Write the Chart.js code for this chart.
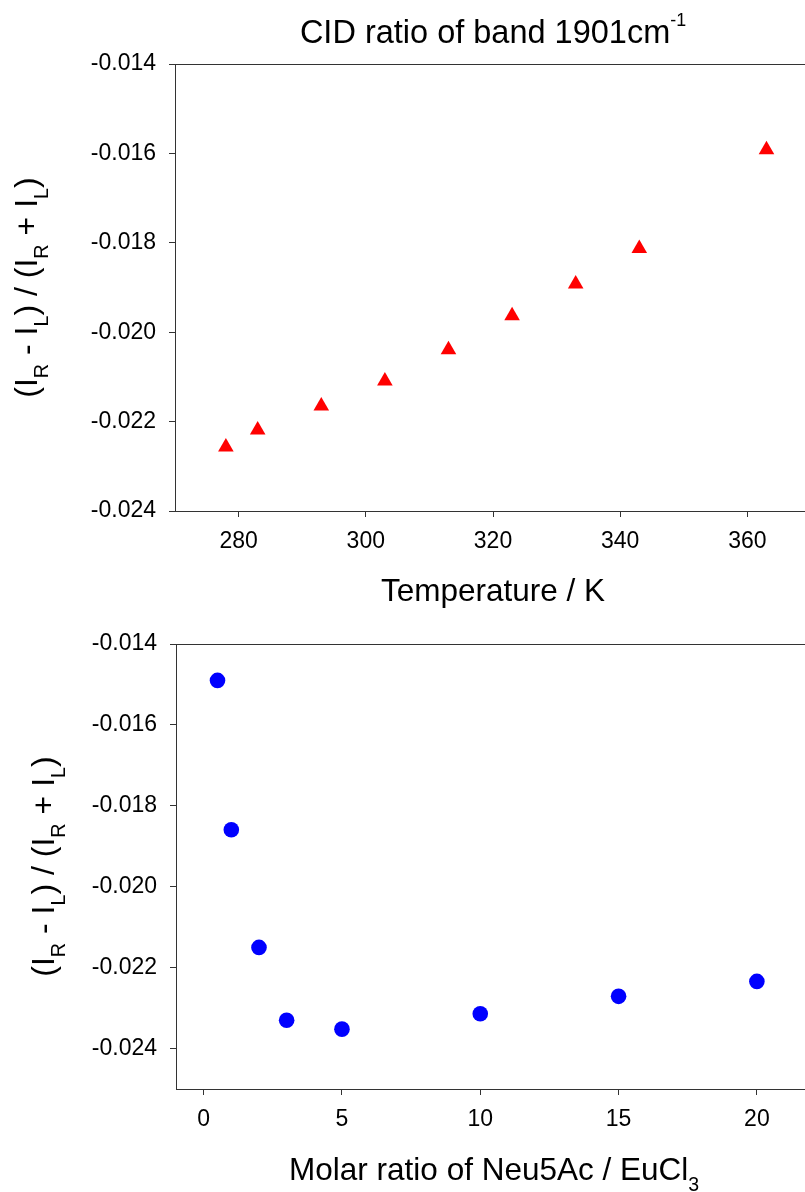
<!DOCTYPE html>
<html><head><meta charset="utf-8">
<script src="https://cdn.jsdelivr.net/npm/chart.js@4/dist/chart.umd.min.js"></script>
<style>
html,body{margin:0;padding:0;background:#fff;overflow:hidden;width:805px;height:1192px;}
#wrap{position:relative;width:820px;height:1192px;overflow:hidden;}
.c{position:absolute;left:0;width:820px;}
#c1box{top:0;height:620px;}
#c2box{top:620px;height:572px;}
</style></head><body>
<div id="wrap">
<div class="c" id="c1box"><canvas id="c1"></canvas></div>
<div class="c" id="c2box"><canvas id="c2"></canvas></div>
</div>
<script>
// ---- data ----
const temperatures = [278, 283, 293, 303, 313, 323, 333, 343, 363];
const cidTemperature = [-0.02257, -0.02219, -0.02165, -0.02109, -0.02039, -0.01963, -0.01892, -0.01813, -0.01592];
const molarRatios = [0.5, 1, 2, 3, 5, 10, 15, 20];
const cidMolar = [-0.0149, -0.01859, -0.0215, -0.0233, -0.02352, -0.02314, -0.02271, -0.02234];
const cidTicks = [-0.014, -0.016, -0.018, -0.020, -0.022, -0.024];
const temperatureTicks = [280, 300, 320, 340, 360];
const molarTicks = [0, 5, 10, 15, 20];

const FAMILY = '"Liberation Sans", Arial, Helvetica, sans-serif';
Chart.defaults.font.family = FAMILY;
Chart.defaults.color = '#000';
const AXIS = '#333';

function drawRich(ctx, parts, x, y, size, rot) {
  ctx.save();
  ctx.translate(x, y);
  ctx.rotate(rot || 0);
  const fonts = parts.map(p => (p[1] === 1 ? size * 0.62 : p[1] === 2 ? size * 0.55 : size) + 'px ' + FAMILY);
  let total = 0;
  const ws = parts.map((p, i) => { ctx.font = fonts[i]; const w = ctx.measureText(p[0]).width; total += w; return w; });
  let cx = -total / 2;
  ctx.textAlign = 'left';
  ctx.textBaseline = 'alphabetic';
  ctx.fillStyle = '#000';
  parts.forEach((p, i) => {
    ctx.font = fonts[i];
    const dy = p[1] === 1 ? size * 0.35 : p[1] === 2 ? -size * 0.52 : 0;
    ctx.fillText(p[0], cx, dy);
    cx += ws[i];
  });
  ctx.restore();
}

const yTitleParts = [['(I', 0], ['R', 1], [' - I', 0], ['L', 1], [') / (I', 0], ['R', 1], [' + I', 0], ['L', 1], [')', 0]];

function frameAndTexts(extra) {
  return {
    id: 'frame',
    beforeDatasetsDraw(chart) {
      const a = chart.chartArea, ctx = chart.ctx;
      ctx.save();
      ctx.strokeStyle = AXIS;
      ctx.lineWidth = 1;
      ctx.strokeRect(Math.round(a.left) + 0.5, Math.round(a.top) + 0.5, Math.round(a.right - a.left), Math.round(a.bottom - a.top));
      ctx.restore();
    },
    afterDraw(chart) {
      extra(chart.ctx, chart.chartArea);
    }
  };
}

function makeOptions(xMin, xMax, xTicks, yMin, yMax, yWidth, xHeight, pad) {
  return {
    responsive: true,
    maintainAspectRatio: false,
    animation: false,
    devicePixelRatio: 1,
    layout: { padding: pad },
    plugins: { legend: { display: false }, tooltip: { enabled: false }, title: { display: false } },
    scales: {
      x: {
        type: 'linear', min: xMin, max: xMax,
        afterBuildTicks: s => { s.ticks = xTicks.map(v => ({ value: v })); },
        afterFit: s => { s.height = xHeight; s.paddingLeft = 0; s.paddingRight = 0; },
        border: { display: false },
        grid: { display: true, drawOnChartArea: false, drawTicks: true, tickLength: 6, color: AXIS, lineWidth: 1 },
        ticks: { font: { size: 23 }, color: '#000', padding: 11, maxRotation: 0, autoSkip: false, callback: v => String(v) }
      },
      y: {
        type: 'linear', min: yMin, max: yMax,
        afterBuildTicks: s => { s.ticks = cidTicks.map(v => ({ value: v })); },
        afterFit: s => { s.width = yWidth; s.paddingTop = 0; s.paddingBottom = 0; },
        border: { display: false },
        grid: { display: true, drawOnChartArea: false, drawTicks: true, tickLength: 6, color: AXIS, lineWidth: 1 },
        ticks: { font: { size: 23 }, color: '#000', padding: 13, autoSkip: false, callback: v => Number(v).toFixed(3) }
      }
    }
  };
}

new Chart(document.getElementById('c1'), {
  type: 'scatter',
  data: {
    datasets: [{
      data: temperatures.map((t, i) => ({ x: t, y: cidTemperature[i] })),
      pointStyle: 'triangle', pointRadius: 9, pointHoverRadius: 9,
      backgroundColor: '#ff0000', borderColor: '#ff0000', borderWidth: 0
    }]
  },
  options: makeOptions(270, 370, temperatureTicks, -0.024, -0.014, 175, 109, { top: 64, right: 9, left: 0, bottom: 0 }),
  plugins: [frameAndTexts((ctx, a) => {
    drawRich(ctx, [['CID ratio of band 1901cm', 0], ['-1', 2]], 493, 43, 32.5, 0);
    drawRich(ctx, [['Temperature / K', 0]], (a.left + a.right) / 2, 601, 31.5, 0);
    drawRich(ctx, yTitleParts, 37, (a.top + a.bottom) / 2, 32, -Math.PI / 2);
  })]
});

new Chart(document.getElementById('c2'), {
  type: 'scatter',
  data: {
    datasets: [{
      data: molarRatios.map((m, i) => ({ x: m, y: cidMolar[i] })),
      pointStyle: 'circle', pointRadius: 7.8, pointHoverRadius: 7.8,
      backgroundColor: '#0000ff', borderColor: '#0000ff', borderWidth: 0
    }]
  },
  options: makeOptions(-1, 22, molarTicks, -0.025, -0.014, 176, 103, { top: 24, right: 7, left: 0, bottom: 0 }),
  plugins: [frameAndTexts((ctx, a) => {
    drawRich(ctx, [['Molar ratio of Neu5Ac / EuCl', 0], ['3', 1]], (a.left + a.right) / 2, 560, 31.5, 0);
    drawRich(ctx, yTitleParts, 54, (a.top + a.bottom) / 2, 32, -Math.PI / 2);
  })]
});
</script>
</body></html>
